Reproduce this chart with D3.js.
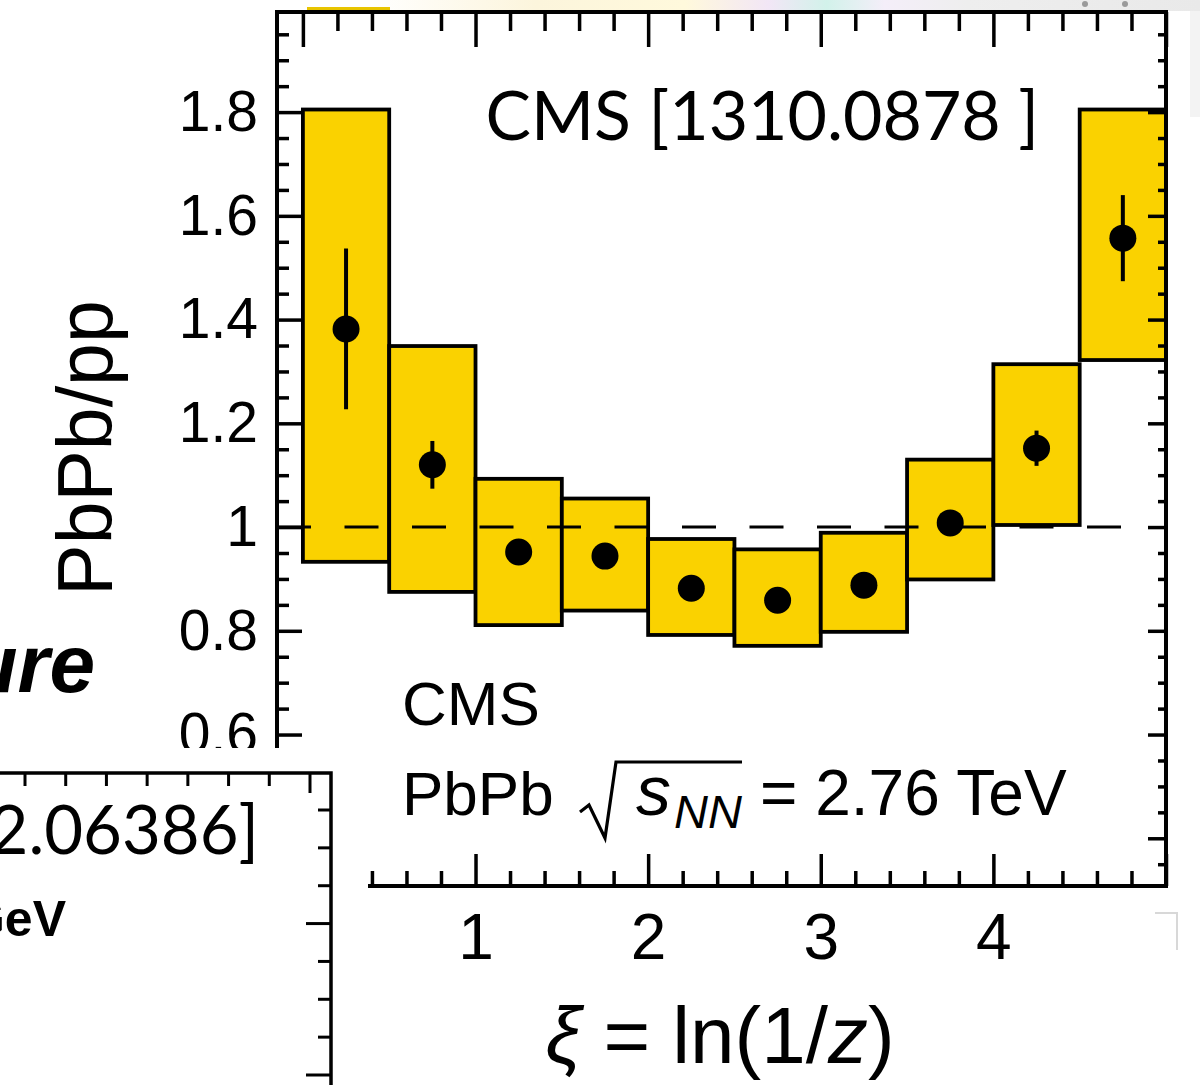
<!DOCTYPE html>
<html>
<head>
<meta charset="utf-8">
<script src="https://cdn.jsdelivr.net/npm/d3@7"></script>
<style>
  body { margin: 0; background: #fff; }
  svg { display: block; }
  .tick text { font-family: "Liberation Sans", Arial, sans-serif; }
</style>
</head>
<body>
<svg id="chart" width="1200" height="1085"></svg>
<script>
// data
var binEdges = [0, 0.5, 1, 1.5, 2, 2.5, 3, 3.5, 4, 4.5, 5];
var ratio    = [1.382, 1.120, 0.952, 0.944, 0.882, 0.859, 0.888, 1.008, 1.152, 1.557];
var statErr  = [0.155, 0.046, 0.02, 0.02, 0.02, 0.02, 0.02, 0.02, 0.034, 0.083];
var sysLow   = [0.933, 0.875, 0.811, 0.839, 0.792, 0.771, 0.798, 0.899, 1.004, 1.322];
var sysHigh  = [1.805, 1.349, 1.093, 1.055, 0.977, 0.957, 0.989, 1.130, 1.314, 1.805];
var xMajor = [0, 1, 2, 3, 4, 5];
var xLabels = [1, 2, 3, 4];
var yMajor = [0.4, 0.6, 0.8, 1.0, 1.2, 1.4, 1.6, 1.8];
var yLabels = [0.6, 0.8, 1.0, 1.2, 1.4, 1.6, 1.8];
var refLine = [-0.15, 4.74];

var svg = d3.select('#chart');
var W = 1200, H = 1085;
var frame = {left: 277, right: 1166, top: 12, bottom: 886};

var x = d3.scaleLinear().domain([-0.15, 5]).range([frame.left, frame.right]);
var y = d3.scaleLinear().domain([0.308, 1.993]).range([frame.bottom, frame.top]);

var xMinor = d3.range(0, 5.001, 0.2).filter(function(v){ return Math.abs(v - Math.round(v)) > 1e-6; });
var yMinor = d3.range(0.35, 1.99, 0.05).filter(function(v){ return Math.abs(v*5 - Math.round(v*5)) > 1e-6; });

// faint slide background strip along the top
var defs = svg.append('defs');
var grad = defs.append('linearGradient').attr('id', 'topstrip');
[['0%', '#ffffff'], ['20%', '#fcf5dc'], ['38%', '#fff9dc'], ['48%', '#f2e6f6'],
 ['55%', '#d2f2ea'], ['62%', '#f4eef9'], ['72%', '#eeeeee'], ['100%', '#e9e9e9']]
  .forEach(function(s){ grad.append('stop').attr('offset', s[0]).attr('stop-color', s[1]); });
svg.append('rect').attr('x', 370).attr('y', 0).attr('width', 830).attr('height', 11)
  .attr('fill', 'url(#topstrip)');
svg.selectAll('.dot').data([1085, 1125]).enter().append('circle')
  .attr('cx', function(d){ return d; }).attr('cy', 4).attr('r', 3).attr('fill', '#9a9a9a');
svg.append('rect').attr('x', 307).attr('y', 7).attr('width', 83).attr('height', 5).attr('fill', '#e8c400');
svg.append('rect').attr('x', 1190).attr('y', 11).attr('width', 10).attr('height', 106).attr('fill', '#f3f3f3');

var plot = svg.append('g');

// systematic boxes
plot.selectAll('.sys').data(ratio).enter().append('rect')
  .attr('class', 'sys')
  .attr('x', function(d, i){ return x(binEdges[i]); })
  .attr('width', function(d, i){ return x(binEdges[i+1]) - x(binEdges[i]); })
  .attr('y', function(d, i){ return y(sysHigh[i]); })
  .attr('height', function(d, i){ return y(sysLow[i]) - y(sysHigh[i]); })
  .attr('fill', '#fad200')
  .attr('stroke', '#000')
  .attr('stroke-width', 3.8);

// axes ticks (inside)
function ticks(g){
  g.select('.domain').remove();
  g.selectAll('.tick line').attr('stroke', '#000').attr('stroke-width', 3.5);
}
plot.append('g').attr('transform', 'translate(0,' + frame.top + ')')
  .call(d3.axisTop(x).tickValues(xMajor).tickSize(-35).tickFormat('')).call(ticks);
plot.append('g').attr('transform', 'translate(0,' + frame.top + ')')
  .call(d3.axisTop(x).tickValues(xMinor).tickSize(-19).tickFormat('')).call(ticks);
plot.append('g').attr('transform', 'translate(0,' + frame.bottom + ')')
  .call(d3.axisBottom(x).tickValues(xMajor).tickSize(-32).tickFormat('')).call(ticks);
plot.append('g').attr('transform', 'translate(0,' + frame.bottom + ')')
  .call(d3.axisBottom(x).tickValues(xMinor).tickSize(-15).tickFormat('')).call(ticks);
plot.append('g').attr('transform', 'translate(0,' + frame.bottom + ')')
  .call(d3.axisBottom(x).tickValues(xLabels).tickSize(0).tickPadding(28).tickFormat(d3.format('d')))
  .call(function(g){
    g.select('.domain').remove();
    g.selectAll('text').attr('font-size', 64).attr('fill', '#000');
  });
plot.append('g').attr('transform', 'translate(' + frame.left + ',0)')
  .call(d3.axisLeft(y).tickValues(yMajor).tickSize(-25).tickFormat('')).call(ticks);
plot.append('g').attr('transform', 'translate(' + frame.left + ',0)')
  .call(d3.axisLeft(y).tickValues(yLabels).tickSize(0).tickPadding(19)
    .tickFormat(function(d){ return d === 1 ? '1' : d3.format('.1f')(d); }))
  .call(function(g){
    g.select('.domain').remove();
    g.selectAll('text').attr('font-size', 57).attr('fill', '#000');
  });
plot.append('g').attr('transform', 'translate(' + frame.left + ',0)')
  .call(d3.axisLeft(y).tickValues(yMinor).tickSize(-12).tickFormat('')).call(ticks);
plot.append('g').attr('transform', 'translate(' + frame.right + ',0)')
  .call(d3.axisRight(y).tickValues(yMajor).tickSize(-18).tickFormat('')).call(ticks);
plot.append('g').attr('transform', 'translate(' + frame.right + ',0)')
  .call(d3.axisRight(y).tickValues(yMinor).tickSize(-8).tickFormat('')).call(ticks);

// dashed reference at unity
plot.append('line')
  .attr('x1', x(refLine[0])).attr('x2', x(refLine[1]))
  .attr('y1', y(1)).attr('y2', y(1))
  .attr('stroke', '#000').attr('stroke-width', 3)
  .attr('stroke-dasharray', '34,33.5');

// frame
plot.append('rect')
  .attr('x', frame.left).attr('y', frame.top)
  .attr('width', frame.right - frame.left).attr('height', frame.bottom - frame.top)
  .attr('fill', 'none').attr('stroke', '#000').attr('stroke-width', 4);

// stat error bars and points
var centers = ratio.map(function(d, i){ return (binEdges[i] + binEdges[i+1]) / 2; });
plot.selectAll('.err').data(ratio).enter().append('line')
  .attr('x1', function(d, i){ return x(centers[i]); })
  .attr('x2', function(d, i){ return x(centers[i]); })
  .attr('y1', function(d, i){ return y(d + statErr[i]); })
  .attr('y2', function(d, i){ return y(d - statErr[i]); })
  .attr('stroke', '#000').attr('stroke-width', 4);
plot.selectAll('.pt').data(ratio).enter().append('circle')
  .attr('cx', function(d, i){ return x(centers[i]); })
  .attr('cy', function(d){ return y(d); })
  .attr('r', 13.5).attr('fill', '#000');

// labels
var sans = '"Liberation Sans", Arial, sans-serif';
svg.append('text').attr('transform', 'translate(112,448) rotate(-90)')
  .attr('text-anchor', 'middle').attr('font-family', sans).attr('font-size', 77)
  .text('PbPb/pp');

var xt = svg.append('text').attr('x', 720).attr('y', 1063).attr('text-anchor', 'middle')
  .attr('font-family', sans).attr('font-size', 80);
xt.append('tspan').attr('font-style', 'italic').text('ξ');
xt.append('tspan').text(' = ln(1/');
xt.append('tspan').attr('font-style', 'italic').text('z');
xt.append('tspan').text(')');

svg.append('text').attr('x', 402).attr('y', 725).attr('font-family', sans)
  .attr('font-size', 62).text('CMS');
svg.append('text').attr('x', 402).attr('y', 815).attr('font-family', sans)
  .attr('font-size', 62).text('PbPb');
svg.append('path').attr('d', 'M580,812 L589,805 L605,838 L616,762 L742,762')
  .attr('fill', 'none').attr('stroke', '#000').attr('stroke-width', 3.2)
  .attr('stroke-linejoin', 'miter');
svg.append('text').attr('x', 636).attr('y', 815).attr('font-family', sans)
  .attr('font-size', 70).attr('font-style', 'italic').text('s');
svg.append('text').attr('x', 674).attr('y', 828).attr('font-family', sans)
  .attr('font-size', 47).attr('font-style', 'italic').text('NN');
svg.append('text').attr('x', 760).attr('y', 815).attr('font-family', sans)
  .attr('font-size', 64).text('= 2.76 TeV');

svg.append('text').attr('x', 1039).attr('y', 140).attr('text-anchor', 'end')
  .attr('font-family', 'Lato, sans-serif').attr('font-weight', 400).attr('font-size', 68)
  .text('CMS [1310.0878 ]');

// overlapping slide elements in the lower left
svg.append('text').attr('x', 95).attr('y', 692).attr('text-anchor', 'end')
  .attr('font-family', sans).attr('font-weight', 'bold').attr('font-style', 'italic')
  .attr('font-size', 82).text('ure');

var inset = svg.append('g');
inset.append('rect').attr('x', 0).attr('y', 748).attr('width', 368).attr('height', H - 748).attr('fill', '#fff');
var ix = d3.scaleLinear().domain([0, 7]).range([25, 310]);
var iy = d3.scaleLinear().domain([0, 7]).range([810, 1075]);
var insetMajor = [3, 7];
inset.selectAll('.itx').data(d3.range(0, 8)).enter().append('line')
  .attr('x1', function(d){ return ix(d); }).attr('x2', function(d){ return ix(d); })
  .attr('y1', 773).attr('y2', function(d){ return 773 + (d === 7 ? 20 : 13); })
  .attr('stroke', '#000').attr('stroke-width', 3);
inset.selectAll('.ity').data(d3.range(0, 8)).enter().append('line')
  .attr('y1', function(d){ return iy(d); }).attr('y2', function(d){ return iy(d); })
  .attr('x1', 331).attr('x2', function(d){ return 331 - (insetMajor.indexOf(d) >= 0 ? 25 : 13); })
  .attr('stroke', '#000').attr('stroke-width', 3);
inset.append('path').attr('d', 'M0,773 L331,773 L331,' + H)
  .attr('fill', 'none').attr('stroke', '#000').attr('stroke-width', 3.5);
inset.append('text').attr('x', 259).attr('y', 854).attr('text-anchor', 'end')
  .attr('font-family', 'Lato, sans-serif').attr('font-weight', 400).attr('font-size', 67)
  .text('2.06386]');
inset.append('text').attr('x', 66).attr('y', 936).attr('text-anchor', 'end')
  .attr('font-family', sans).attr('font-weight', 'bold').attr('font-size', 50).text('GeV');

// small grey corner on the right
svg.append('path').attr('d', 'M1155,913 L1177,913 L1177,950')
  .attr('fill', 'none').attr('stroke', '#d8d8d8').attr('stroke-width', 2);
</script>
</body>
</html>
